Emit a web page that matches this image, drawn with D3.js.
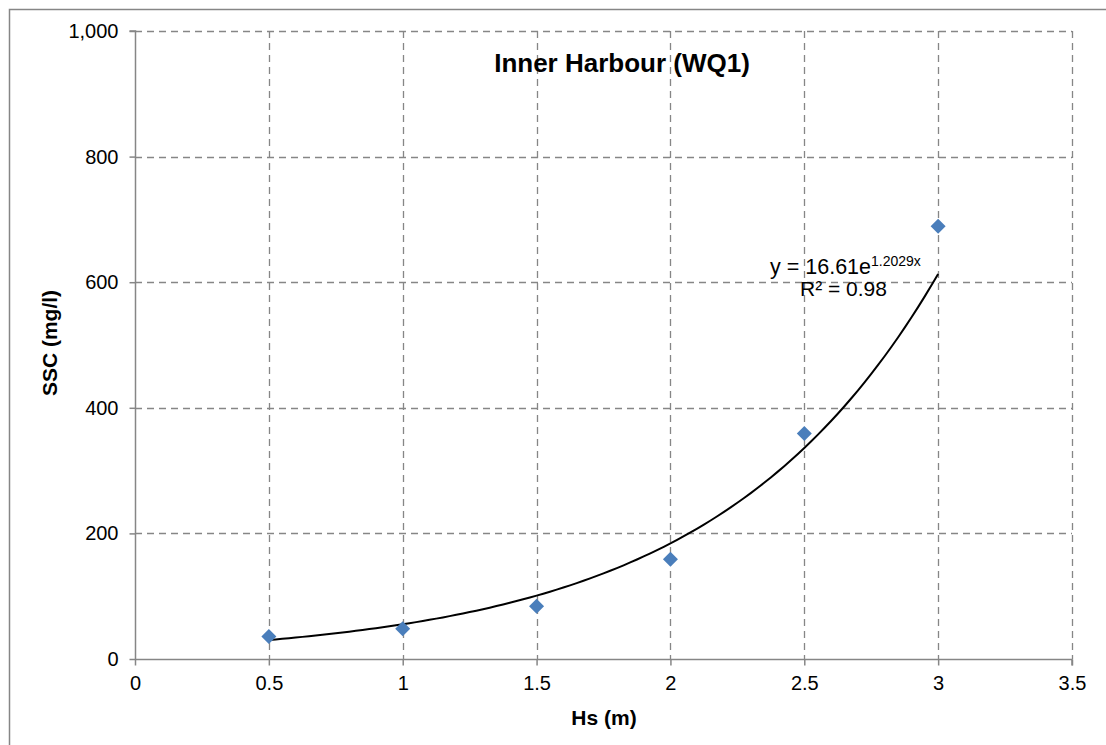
<!DOCTYPE html>
<html>
<head>
<meta charset="utf-8">
<script src="https://cdn.jsdelivr.net/npm/d3@7"></script>
<style>
  html, body { margin: 0; padding: 0; background: #fff; }
  svg { display: block; font-family: "Liberation Sans", Arial, sans-serif; }
</style>
</head>
<body>
<svg id="chart" width="1106" height="745"></svg>
<script>
// Wave height (Hs, m) against suspended sediment concentration (SSC, mg/l)
const hsValues = [0.5, 1, 1.5, 2, 2.5, 3];
const sscValues = [36, 48, 84, 159, 359, 689];
const xTicks = [0, 0.5, 1, 1.5, 2, 2.5, 3, 3.5];
const yTicks = [0, 200, 400, 600, 800, 1000];
// Exponential trendline y = a * e^(b x)
const fitA = 16.61;
const fitB = 1.2029;
const fitR2 = 0.98;

const svg = d3.select("#chart");
const plotLeft = 135, plotRight = 1072, plotTop = 31, plotBottom = 659;

const x = d3.scaleLinear().domain([0, 3.5]).range([plotLeft, plotRight]);
const y = d3.scaleLinear().domain([0, 1000]).range([plotBottom, plotTop]);

// outer chart border
svg.append("rect")
  .attr("x", 9.5).attr("y", 9.5)
  .attr("width", 1120).attr("height", 760)
  .attr("fill", "none").attr("stroke", "#868686").attr("stroke-width", 1.5);

const gridColor = "#868686";
// horizontal gridlines
svg.append("g").selectAll("line")
  .data(yTicks.filter(d => d > 0))
  .join("line")
  .attr("x1", plotLeft).attr("x2", plotRight)
  .attr("y1", d => Math.round(y(d)) + 0.5).attr("y2", d => Math.round(y(d)) + 0.5)
  .attr("stroke", gridColor).attr("stroke-width", 1.3)
  .attr("stroke-dasharray", "7,5");
// vertical gridlines
svg.append("g").selectAll("line")
  .data(xTicks.filter(d => d > 0))
  .join("line")
  .attr("x1", d => Math.round(x(d)) + 0.5).attr("x2", d => Math.round(x(d)) + 0.5)
  .attr("y1", plotTop).attr("y2", plotBottom)
  .attr("stroke", gridColor).attr("stroke-width", 1.3)
  .attr("stroke-dasharray", "7,5");

// axes
const yAxis = d3.axisLeft(y).tickValues(yTicks).tickSize(6).tickPadding(11)
  .tickFormat(d3.format(","));
const xAxis = d3.axisBottom(x).tickValues(xTicks).tickSize(6).tickPadding(10)
  .tickFormat(d => String(d));

const gy = svg.append("g").attr("transform", `translate(${plotLeft + 0.5},0)`).call(yAxis);
const gx = svg.append("g").attr("transform", `translate(0,${plotBottom + 0.5})`).call(xAxis);
[gx, gy].forEach(g => {
  g.select(".domain").attr("stroke", "#868686").attr("stroke-width", 1.5);
  g.selectAll(".tick line").attr("stroke", "#868686").attr("stroke-width", 1.5);
  g.selectAll(".tick text").attr("fill", "#000").style("font-size", "20px")
    .style("font-family", "'Liberation Sans', Arial, sans-serif");
});
gy.select(".domain").attr("d", `M-6,${plotTop}H0V${plotBottom}`);
gx.select(".domain").attr("d", `M${plotLeft},0H${plotRight}V6`);

// trendline
const fitPts = d3.range(0, 101).map(i => {
  const hx = 0.5 + (3 - 0.5) * i / 100;
  return [hx, fitA * Math.exp(fitB * hx)];
});
svg.append("path")
  .datum(fitPts)
  .attr("d", d3.line().x(d => x(d[0])).y(d => y(d[1])))
  .attr("fill", "none").attr("stroke", "#000").attr("stroke-width", 2);

// data markers (diamonds)
svg.append("g").selectAll("path")
  .data(hsValues.map((h, i) => [h, sscValues[i]]))
  .join("path")
  .attr("transform", d => `translate(${x(d[0])},${y(d[1])})`)
  .attr("d", "M0,-7.5L7.5,0L0,7.5L-7.5,0Z")
  .attr("fill", "#4a7ebb");

// title
svg.append("text")
  .attr("x", 622).attr("y", 72)
  .attr("text-anchor", "middle")
  .style("font-size", "26px").style("font-weight", "bold")
  .text("Inner Harbour (WQ1)");

// axis titles
svg.append("text")
  .attr("x", 604).attr("y", 725)
  .attr("text-anchor", "middle")
  .style("font-size", "21px").style("font-weight", "bold")
  .text("Hs (m)");
svg.append("text")
  .attr("transform", "translate(57,343) rotate(-90)")
  .attr("text-anchor", "middle")
  .style("font-size", "21px").style("font-weight", "bold")
  .text("SSC (mg/l)");

// trendline equation
const eq = svg.append("text").attr("x", 770).attr("y", 274).style("font-size", "21.5px");
eq.append("tspan").text(`y = ${fitA}e`);
eq.append("tspan").attr("dy", -8).style("font-size", "14px").text(`${fitB}x`);
svg.append("text").attr("x", 800).attr("y", 296).style("font-size", "21px")
  .text(`R² = ${fitR2}`);
</script>
</body>
</html>
